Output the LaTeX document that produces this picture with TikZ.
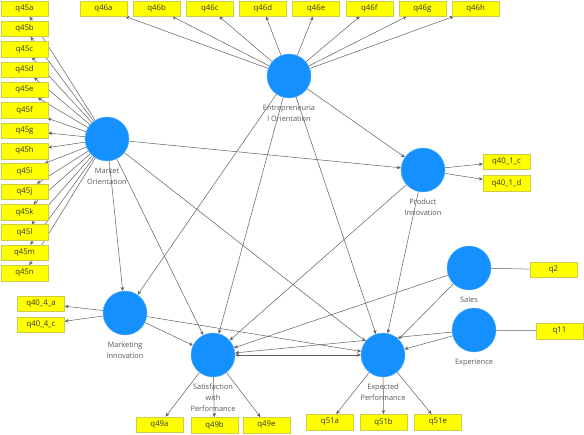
\documentclass[tikz,border=0pt]{standalone}
\usepackage{fontspec}
\setmainfont{Open Sans}
\usetikzlibrary{arrows.meta,backgrounds}
\definecolor{lvblue}{RGB}{20,145,255}
\definecolor{mvyellow}{RGB}{255,255,0}
\definecolor{mvborder}{RGB}{205,205,70}
\definecolor{edgegray}{RGB}{95,95,95}
\begin{document}
\begin{tikzpicture}[x=1pt,y=-1pt,
  lv/.style={circle,fill=lvblue,draw=lvblue!70!white,line width=0.4pt,minimum size=44pt,inner sep=0pt},
  mv/.style={rectangle,fill=mvyellow,draw=mvborder,line width=0.4pt,minimum width=47pt,minimum height=15.5pt,inner sep=0pt,font=\fontsize{7.8}{9}\selectfont,text=black!80},
  lab/.style={font=\fontsize{7.4}{11}\selectfont,text=black!65,align=center,anchor=north,inner sep=1pt},
  arr/.style={draw=edgegray,line width=0.5pt,-{Stealth[length=4pt,width=3.6pt]}},
  arrboth/.style={draw=edgegray,line width=0.5pt,{Stealth[length=4pt,width=3.6pt]}-{Stealth[length=4pt,width=3.6pt]}},
  lnk/.style={draw=edgegray,line width=0.5pt}]
\useasboundingbox (0,0) rectangle (584,434);

% latent variables
\node[lv] (eo) at (289,76) {};
\node[lv] (mo) at (107,139) {};
\node[lv] (pi) at (423,170) {};
\node[lv] (sales) at (469,268) {};
\node[lv] (exp) at (474,330) {};
\node[lv] (mi) at (125,313) {};
\node[lv] (sp) at (213,355) {};
\node[lv] (ep) at (383,355) {};

% labels
\node[lab] (eolab) at (289,104) {Entrepreneuria\\l Orientation};
\node[lab] (molab) at (107,167) {Market\\Orientation};
\node[lab] (pilab) at (423,198) {Product\\Innovation};
\node[lab] (saleslab) at (469,296) {Sales};
\node[lab] (explab) at (474,358) {Experience};
\node[lab] (milab) at (125,341) {Marketing\\Innovation};
\node[lab] (splab) at (213,383) {Satisfaction\\with\\Performance};
\node[lab] (eplab) at (383,383) {Expected\\Performance};

% indicators
\foreach \l [count=\i from 0] in {a,b,c,d,e,f,g,h,i,j,k,l,m,n}
  \node[mv] (q45\l) at (24.5,8.5+20.35*\i) {q45\l};
\foreach \l [count=\i from 0] in {a,b,c,d,e,f,g,h}
  \node[mv] (q46\l) at (103.5+53.15*\i,8.5) {q46\l};
\node[mv] (q401c) at (506.5,161.5) {q40\_1\_c};
\node[mv] (q401d) at (506.5,183) {q40\_1\_d};
\node[mv] (q2) at (553.5,269.5) {q2};
\node[mv] (q11) at (559.5,331) {q11};
\node[mv] (q404a) at (41,303.5) {q40\_4\_a};
\node[mv] (q404c) at (41,324.5) {q40\_4\_c};
\node[mv] (q49a) at (159.5,424.5) {q49a};
\node[mv] (q49b) at (214.5,425) {q49b};
\node[mv] (q49e) at (266.5,425) {q49e};
\node[mv] (q51a) at (330,422) {q51a};
\node[mv] (q51b) at (383.5,422) {q51b};
\node[mv] (q51e) at (438,422) {q51e};

\begin{scope}[on background layer]
  % measurement
  \foreach \l in {a,b,c,d,e,f,g,h,i,j,k,l,m,n}
    \draw[arr] (mo) -- (q45\l);
  \foreach \l in {a,b,c,d,e,f,g,h}
    \draw[arr] (eo) -- (q46\l);
  \draw[arr] (pi) -- (q401c);
  \draw[arr] (pi) -- (q401d);
  \draw[arr] (mi) -- (q404a);
  \draw[arr] (mi) -- (q404c);
  \draw[arr] (sp) -- (q49a);
  \draw[arr] (sp) -- (q49b);
  \draw[arr] (sp) -- (q49e);
  \draw[arr] (ep) -- (q51a);
  \draw[arr] (ep) -- (q51b);
  \draw[arr] (ep) -- (q51e);
  \draw[lnk] (sales) -- (q2);
  \draw[lnk] (exp) -- (q11);
  % structural
  \draw[arr] (eo) -- (pi);
  \draw[arr] (mo) -- (pi);
  \draw[arr] (mo) -- (mi);
  \draw[arr] (eo) -- (mi);
  \draw[arr] (mo) -- (sp);
  \draw[arr] (eo) -- (sp);
  \draw[arr] (pi) -- (sp);
  \draw[arr] (mi) -- (sp);
  \draw[arr] (sales) -- (sp);
  \draw[arr] (exp) -- (sp);
  \draw[arr] (mo) -- (ep);
  \draw[arr] (eo) -- (ep);
  \draw[arr] (pi) -- (ep);
  \draw[arr] (mi) -- (ep);
  \draw[arr] (sales) -- (ep);
  \draw[arr] (exp) -- (ep);
  \draw[arrboth] (sp) -- (ep);
\end{scope}
\end{tikzpicture}
\end{document}
